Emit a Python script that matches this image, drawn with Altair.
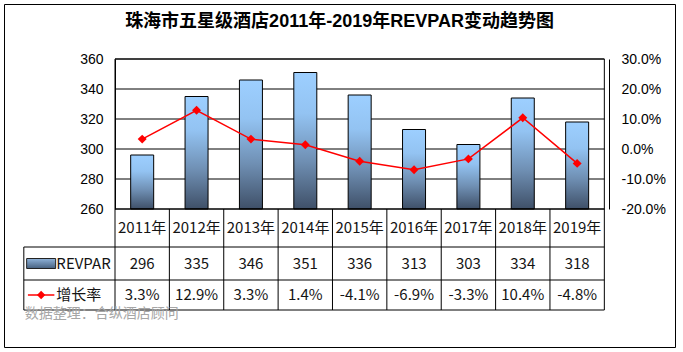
import altair as alt
import pandas as pd

# ---------------- data ----------------
years = ["2011年", "2012年", "2013年", "2014年", "2015年", "2016年", "2017年", "2018年", "2019年"]
revpar = [296, 335, 346, 351, 336, 313, 303, 334, 318]
growth = [0.033, 0.129, 0.033, 0.014, -0.041, -0.069, -0.033, 0.104, -0.048]
growth_labels = ["3.3%", "12.9%", "3.3%", "1.4%", "-4.1%", "-6.9%", "-3.3%", "10.4%", "-4.8%"]
left_ticks = [260, 280, 300, 320, 340, 360]
right_ticks = [-0.2, -0.1, 0.0, 0.1, 0.2, 0.3]
series_names = ["REVPAR", "增长率"]
title_text = "珠海市五星级酒店2011年-2019年REVPAR变动趋势图"
footer_text = "数据整理：合纵酒店顾问"

# ---------------- layout (frame = view) ----------------
W, H = 671, 343
FONT_LAT = "Liberation Sans, Noto Sans CJK SC"
FONT_TAB = "Noto Sans CJK SC"
TXT = "#141414"

# columns: legend column = [-1, 0], categories = [0, 9]
x_scale = alt.Scale(domain=[-1, 0, 9], range=[12, 111, 605], zero=False, nice=False)
y_left = alt.Scale(domain=[260, 360], range=[205, 55], zero=False, nice=False)
y_right = alt.Scale(domain=[-0.2, 0.3], range=[205, 55], zero=False, nice=False)
# table rows: header (0-1), REVPAR (1-2), growth (2-3)
y_tab = alt.Scale(domain=[0, 1, 2, 3], range=[205, 243, 276, 306], zero=False, nice=False)

n = len(years)
df = pd.DataFrame({
    "year": years,
    "pos": [i + 0.5 for i in range(n)],
    "revpar": revpar,
    "growth": growth,
    "glabel": growth_labels,
    "vlabel": [str(v) for v in revpar],
    "r0": 0.5, "r1": 1.5, "r2": 2.5,
})

bar_grad = alt.Gradient(
    gradient="linear",
    stops=[alt.GradientStop(color="#9dcfff", offset=0),
           alt.GradientStop(color="#93c3f2", offset=0.3),
           alt.GradientStop(color="#6f8fb3", offset=0.65),
           alt.GradientStop(color="#3f5068", offset=1)],
    x1=0, x2=0, y1=0, y2=1,
)

def X(field):
    return alt.X(field, type="quantitative", scale=x_scale, axis=None)

# grid lines (behind bars)
grid_df = pd.DataFrame({"v": left_ticks[1:], "a": 0, "b": n})
grid = alt.Chart(grid_df).mark_rule(color="black", strokeWidth=1).encode(
    x=X("a"), x2="b",
    y=alt.Y("v:Q", scale=y_left, axis=None),
)

bars = alt.Chart(df).mark_bar(width=23, stroke="black", strokeWidth=1, color=bar_grad).encode(
    x=X("pos"),
    y=alt.Y("revpar:Q", scale=y_left, axis=alt.Axis(
        orient="left", values=left_ticks, offset=-111, ticks=False, grid=False,
        domain=True, domainColor="black", domainWidth=1,
        labelPadding=12, labelFont=FONT_LAT, labelFontSize=14, labelColor="black",
        title=None)),
    y2=alt.datum(260),
)

line = alt.Chart(df).mark_line(color="#ff0000", strokeWidth=1.5).encode(
    x=X("pos"),
    y=alt.Y("growth:Q", scale=y_right, axis=alt.Axis(
        orient="right", values=right_ticks, offset=-66, ticks=False, grid=False,
        labelExpr="replace(format(datum.value, '.1%'), '\u2212', '-')",
        domain=True, domainColor="black", domainWidth=1,
        labelPadding=12, labelFont=FONT_LAT, labelFontSize=14, labelColor="black",
        title=None)),
)
points = alt.Chart(df).mark_point(shape="diamond", filled=True, size=80, color="#ff0000", opacity=1).encode(
    x=X("pos"),
    y=alt.Y("growth:Q", scale=y_right, axis=None),
)

# plot box
box_df = pd.DataFrame({"a": [0], "b": [n], "lo": [260], "hi": [360]})
box = alt.Chart(box_df).mark_rect(fill=None, stroke="black", strokeWidth=1).encode(
    x=X("a"), x2="b", y=alt.Y("lo:Q", scale=y_left, axis=None), y2="hi",
)

# table lines
h_df = pd.DataFrame({"r": [0, 1, 2, 3], "a": [0, -1, -1, -1], "b": [n] * 4})
hlines = alt.Chart(h_df).mark_rule(color="black", strokeWidth=1).encode(
    x=X("a"), x2="b", y=alt.Y("r:Q", scale=y_tab, axis=None),
)
v_df = pd.DataFrame({"c": [-1] + list(range(n + 1)), "a": [1] + [0] * (n + 1), "b": [3] * (n + 2)})
vlines = alt.Chart(v_df).mark_rule(color="black", strokeWidth=1).encode(
    x=X("c"), y=alt.Y("a:Q", scale=y_tab, axis=None), y2="b",
)

def cell_text(field, rowfield):
    return alt.Chart(df).mark_text(font=FONT_TAB, fontSize=15, color=TXT, baseline="middle", align="center").encode(
        x=X("pos"), y=alt.Y(rowfield + ":Q", scale=y_tab, axis=None), text=field + ":N",
    )

t_year = cell_text("year", "r0")
t_val = cell_text("vlabel", "r1")
t_gr = cell_text("glabel", "r2")

# legend column
leg_df = pd.DataFrame({"name": series_names, "row": [1.5, 2.5], "sx": [-0.81, -0.81],
                       "tx": [-0.665, -0.665], "la": [-0.955, -0.955], "lb": [-0.665, -0.665]})
small_grad = alt.Gradient(
    gradient="linear",
    stops=[alt.GradientStop(color="#8fb3da", offset=0),
           alt.GradientStop(color="#46607f", offset=1)],
    x1=0, x2=0, y1=0, y2=1,
)
swatch = alt.Chart(leg_df.iloc[[0]]).mark_rect(width=29, height=10, color=small_grad, stroke="#222", strokeWidth=1).encode(
    x=X("sx"), y=alt.Y("row:Q", scale=y_tab, axis=None),
)
leg_line = alt.Chart(leg_df.iloc[[1]]).mark_rule(color="#ff0000", strokeWidth=1.5).encode(
    x=X("la"), x2="lb", y=alt.Y("row:Q", scale=y_tab, axis=None),
)
leg_pt = alt.Chart(leg_df.iloc[[1]]).mark_point(shape="diamond", filled=True, size=70, color="#ff0000", opacity=1).encode(
    x=X("sx"), y=alt.Y("row:Q", scale=y_tab, axis=None),
)
leg_txt = alt.Chart(leg_df).mark_text(font=FONT_TAB, fontSize=15, color=TXT, align="left", baseline="middle", dx=2).encode(
    x=X("tx"), y=alt.Y("row:Q", scale=y_tab, axis=None), text="name:N",
)

# footer
foot_df = pd.DataFrame({"t": [footer_text], "c": [-1], "r": [3]})
footer = alt.Chart(foot_df).mark_text(font=FONT_TAB, fontSize=14, color="#a6a6a6", align="left",
                                      baseline="middle", dx=1, dy=4).encode(
    x=X("c"), y=alt.Y("r:Q", scale=y_tab, axis=None), text="t:N",
)

# title (inside the frame)
title_df = pd.DataFrame({"t": [title_text]})
title = alt.Chart(title_df).mark_text(font=FONT_LAT, fontSize=18, fontWeight="bold", color="black",
                                      align="center", baseline="middle").encode(
    x=alt.value(W / 2), y=alt.value(18), text="t:N",
)

chart = alt.layer(
    grid, bars, box, line, points, hlines, vlines, t_year, t_val, t_gr,
    swatch, leg_line, leg_pt, leg_txt, footer, title,
).resolve_scale(y="independent").properties(
    width=W, height=H,
    autosize=alt.AutoSizeParams(type="none"),
    padding={"left": 4, "top": 4, "right": 8, "bottom": 5},
    background="white",
).configure_view(stroke="black", strokeWidth=1)

chart.save("out.html", embed_options={"renderer": "svg", "actions": False})
